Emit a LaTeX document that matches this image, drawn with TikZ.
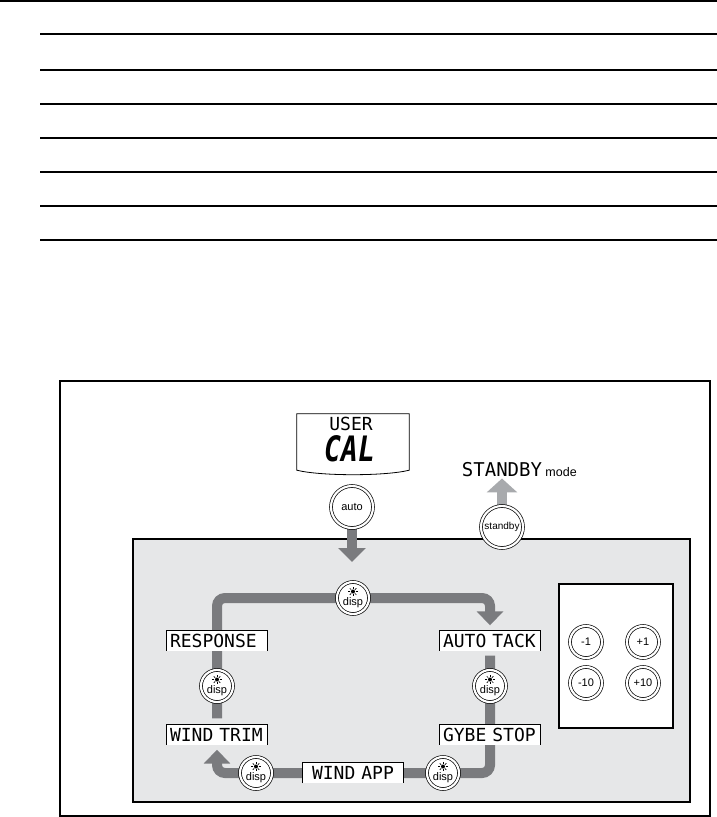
\documentclass[tikz,border=0pt]{standalone}
\usepackage{graphicx}
\usepackage{fontspec}
\setmainfont{Liberation Sans}
\newfontfamily\lcdfont{DejaVu Sans Mono}
\usetikzlibrary{arrows.meta,positioning,backgrounds}
\definecolor{panelgray}{RGB}{230,231,232}
\definecolor{flowgray}{RGB}{122,123,126}
\definecolor{lightflow}{RGB}{168,170,173}

\tikzset{
  flow/.style={draw=flowgray, line width=10pt, rounded corners=8pt},
  flowtip/.style={-{Triangle[width=26pt,length=14pt]}},
  btn/.style={circle, draw=black, fill=white, double=white, double distance=2.2pt,
    line width=0.7pt, minimum size=32pt, inner sep=0pt, font=\fontsize{11}{11}\selectfont},
  bigbtn/.style={btn, minimum size=42pt},
  lcdbox/.style={fill=white, minimum width=100pt, minimum height=20pt, text width=94pt,
    text height=13pt, text depth=0pt, inner xsep=3pt, inner ysep=0pt, align=left,
    font=\lcdfont\fontsize{18}{18}\selectfont},
  lcdtext/.style={inner sep=0pt, font=\lcdfont\fontsize{18}{18}\selectfont},
}

\begin{document}
\begin{tikzpicture}[x=1pt, y=-1pt]
  \useasboundingbox (0,0) rectangle (717,817);

  % ruled lines at the top of the page
  \draw[line width=1.3pt] (0,1) -- (717,1);
  \foreach \ly in {34,70,104,138,172,206,240}
    \draw[line width=1.2pt] (40,\ly) -- (717,\ly);

  % display unit
  \node[minimum width=112pt, minimum height=56pt, inner sep=0pt] (lcd) at (353,442) {};
  \draw[line width=0.8pt, fill=white] (lcd.south west) -- (lcd.north west) -- (lcd.north east) -- (lcd.south east)
    .. controls ([xshift=-24pt,yshift=-6pt]lcd.south east) and ([xshift=24pt,yshift=-6pt]lcd.south west) .. (lcd.south west) -- cycle;
  \node[lcdtext] (user) at (351,424) {USER};
  \node[inner sep=0pt, font=\lcdfont\bfseries\itshape\fontsize{28}{28}\selectfont] (cal) at (350,449) {\scalebox{1}[1.25]{CAL}};

  % keys outside the loop
  \node[bigbtn] (auto) at (352,507) {auto};
  \node[bigbtn, font=\fontsize{10}{10}\selectfont] (standby) at (502,527) {standby};
  \coordinate (autotip) at (352,562);
  \node[lcdtext, font=\lcdfont\fontsize{19}{19}\selectfont, anchor=base] (sbtext) at (502,476) {STANDBY};
  \node[anchor=base west, inner sep=0pt, font=\fontsize{12.5}{12.5}\selectfont] (mode) at ([xshift=3pt]sbtext.base east) {mode};

  % screens of the loop
  \node[lcdbox] (resp) at (217,640.5) {RESPONSE};
  \node[lcdbox] (atack) at (490,640.5) {AUTO TACK};
  \node[lcdbox] (wtrim) at (217,734.5) {WIND TRIM};
  \node[lcdbox] (gybe) at (490,734.5) {GYBE STOP};
  \node[lcdbox, align=center] (wapp) at (353,773) {WIND APP};
  \foreach \n in {resp,atack,wtrim,gybe,wapp}
    \draw[line width=0.8pt] (\n.south west) |- (\n.north east) -- (\n.south east);

  % disp keys
  \node[btn] (dtop) at (353,598) {};
  \node[btn] (dleft) at (217,686) {};
  \node[btn] (dright) at (490,686) {};
  \node[btn] (dbl) at (256,773) {};
  \node[btn] (dbr) at (443,773) {};
  \foreach \b in {dtop,dleft,dright,dbl,dbr} {
    \node[inner sep=0pt, font=\fontsize{11}{11}\selectfont] (\b-txt) at ([yshift=-4.5pt]\b.center) {disp};
    \fill ([yshift=6.5pt]\b.center) circle (2pt);
    \foreach \a in {0,45,...,315}
      \draw[line width=0.7pt] ([yshift=6.5pt]\b.center) ++(\a:2.6pt) -- ++(\a:2pt);
  }

  % course change keys
  \node[btn] (m1) at (586,642) {-1};
  \node[btn] (p1) at (643,642) {+1};
  \node[btn] (m10) at (586,683) {-10};
  \node[btn] (p10) at (643,683) {+10};

  \begin{scope}[on background layer]
    \draw[line width=1.3pt] (60,381) rectangle (710,816);
    \draw[fill=panelgray, line width=1.1pt] (133,539) rectangle (690,802);
    \draw[fill=white, line width=1.1pt] (559,584) rectangle (673,728);
    % arrows
    \draw[flowgray, line width=10pt, -{Triangle[width=27pt,length=14pt]}] (auto.south) -- (autotip);
    \draw[lightflow, line width=10pt, -{Triangle[width=30pt,length=14pt]}] (standby.north) -- ([yshift=-2pt]sbtext.south);
    \draw[flow, flowtip] ([yshift=6pt]wtrim.north) |- (dtop) -| ([yshift=5pt]atack.north);
    \draw[flow, flowtip] ([yshift=-5pt]atack.south) |- (wapp) -| ([yshift=-5pt]wtrim.south);
  \end{scope}
\end{tikzpicture}
\end{document}
